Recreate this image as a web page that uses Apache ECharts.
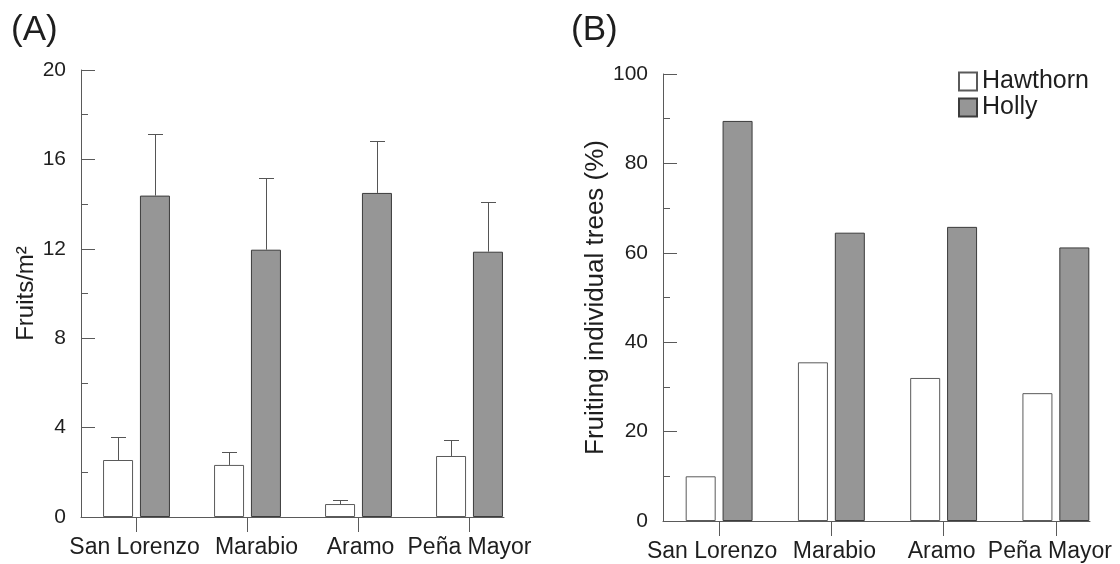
<!DOCTYPE html>
<html>
<head>
<meta charset="utf-8">
<script src="https://cdn.jsdelivr.net/npm/echarts@6/dist/echarts.min.js"></script>
<style>
  html, body { margin: 0; padding: 0; background: #fff; }
  #chart { width: 1120px; height: 564px; }
</style>
</head>
<body>
<div id="chart"></div>
<script>
// sites along the x axis of both panels
const categories = ['San Lorenzo', 'Marabio', 'Aramo', 'Peña Mayor'];

// (A) fruits per m2, mean and top of the error bar
const fruitsHawthorn = [2.55, 2.33, 0.58, 2.73];
const fruitsHawthornErr = [3.58, 2.91, 0.76, 3.45];
const fruitsHolly = [14.38, 11.96, 14.5, 11.87];
const fruitsHollyErr = [17.12, 15.18, 16.81, 14.08];

// (B) fruiting individual trees (%)
const pctHawthorn = [10.0, 35.5, 32.0, 28.6];
const pctHolly = [89.5, 64.5, 65.8, 61.2];

const FONT = 'Liberation Sans, Arial, sans-serif';
const TEXT = '#1e1e1e';
const AXIS = '#5a5a5a';
const BAR_W = 30;
const BAR_GAP = 0.23; // fraction of bar width
const HALF = (BAR_W + BAR_W * BAR_GAP) / 2; // centre of each bar from category centre

// the original figure nudges some site labels off their tick (px, + = right)
const labelShiftA = [-2, 9, 2, 0];
const labelShiftB = [-7, 3, -2, -6];

const whiteStyle = { color: '#ffffff', borderColor: '#5a5a5a', borderWidth: 1 };
const greyStyle = { color: '#969696', borderColor: '#3c3c3c', borderWidth: 1 };

function errorBars(offset) {
  return function (params, api) {
    const i = api.value(0);
    const base = api.coord([i, api.value(1)]);
    const top = api.coord([i, api.value(2)]);
    const x = Math.round(base[0] + offset) + 0.5;
    const yt = Math.round(top[1]) + 0.5;
    const st = { stroke: '#555', lineWidth: 1 };
    return {
      type: 'group',
      children: [
        { type: 'line', shape: { x1: x, y1: base[1], x2: x, y2: yt }, style: st },
        { type: 'line', shape: { x1: x - 7.5, y1: yt, x2: x + 7.5, y2: yt }, style: st }
      ]
    };
  };
}

function valueAxis(gridIndex, max, interval, name, nameGap, nameSize) {
  return {
    type: 'value', gridIndex: gridIndex, min: 0, max: max, interval: interval,
    name: name, nameLocation: 'middle', nameGap: nameGap,
    nameTextStyle: { fontFamily: FONT, fontSize: nameSize, color: TEXT },
    axisLine: { show: true, lineStyle: { color: AXIS, width: 1 } },
    axisTick: { show: true, inside: true, length: 14, lineStyle: { color: AXIS } },
    minorTick: { show: true, splitNumber: 2, length: 7, lineStyle: { color: AXIS } },
    axisLabel: { fontFamily: FONT, fontSize: 21, color: TEXT, margin: 15 },
    splitLine: { show: false }
  };
}

function catAxis(gridIndex, shifts) {
  const rich = {};
  shifts.forEach((s, i) => {
    rich['s' + i] = {
      fontFamily: FONT, fontSize: 23, color: TEXT,
      padding: s >= 0 ? [0, 0, 0, 2 * s] : [0, -2 * s, 0, 0]
    };
  });
  return {
    type: 'category', gridIndex: gridIndex, data: categories,
    axisLine: { show: false },
    axisTick: { show: true, alignWithLabel: true, interval: 0, length: 15, lineStyle: { color: AXIS } },
    axisLabel: {
      fontFamily: FONT, fontSize: 23, color: TEXT, margin: 19, interval: 0,
      formatter: (v, i) => '{s' + i + '|' + v + '}', rich: rich
    },
    splitLine: { show: false }
  };
}

// plain baseline axis, shorter than the category band
function baseAxis(gridIndex) {
  return {
    type: 'value', gridIndex: gridIndex, min: 0, max: 1,
    axisLine: { show: true, onZero: false, lineStyle: { color: AXIS, width: 1 } },
    axisTick: { show: false }, axisLabel: { show: false }, splitLine: { show: false }
  };
}

function hiddenY(gridIndex) {
  return { type: 'value', gridIndex: gridIndex, show: false, min: 0, max: 1 };
}

const chart = echarts.init(document.getElementById('chart'), null, { renderer: 'canvas' });

chart.setOption({
  animation: false,
  textStyle: { fontFamily: FONT },
  title: [
    { text: '(A)', left: 6, top: 8, textStyle: { fontFamily: FONT, fontSize: 35, fontWeight: 'normal', color: TEXT } },
    { text: '(B)', left: 566, top: 8, textStyle: { fontFamily: FONT, fontSize: 35, fontWeight: 'normal', color: TEXT } }
  ],
  legend: {
    data: ['Hawthorn', 'Holly'],
    orient: 'vertical', left: 953, top: 64,
    icon: 'rect', itemWidth: 18, itemHeight: 18, itemGap: 1,
    textStyle: { fontFamily: FONT, fontSize: 25, color: TEXT },
    selectedMode: false
  },
  grid: [
    { left: 81, top: 70, width: 444, height: 447 },
    { left: 663, top: 74, width: 449, height: 447 },
    { left: 81, top: 70, width: 423, height: 447 },
    { left: 663, top: 74, width: 427, height: 447 }
  ],
  xAxis: [catAxis(0, labelShiftA), catAxis(1, labelShiftB), baseAxis(2), baseAxis(3)],
  yAxis: [
    valueAxis(0, 20, 4, 'Fruits/m²', 41, 24),
    valueAxis(1, 100, 20, 'Fruiting individual trees (%)', 48, 26),
    hiddenY(2), hiddenY(3)
  ],
  series: [
    { name: 'Hawthorn', type: 'bar', xAxisIndex: 0, yAxisIndex: 0, data: fruitsHawthorn,
      barWidth: BAR_W, barGap: (BAR_GAP * 100) + '%', itemStyle: whiteStyle },
    { name: 'Holly', type: 'bar', xAxisIndex: 0, yAxisIndex: 0, data: fruitsHolly,
      barWidth: BAR_W, barGap: (BAR_GAP * 100) + '%', itemStyle: greyStyle },
    { name: 'errHawthorn', type: 'custom', xAxisIndex: 0, yAxisIndex: 0,
      renderItem: errorBars(-HALF),
      data: fruitsHawthorn.map((v, i) => [i, v, fruitsHawthornErr[i]]), z: 3 },
    { name: 'errHolly', type: 'custom', xAxisIndex: 0, yAxisIndex: 0,
      renderItem: errorBars(HALF),
      data: fruitsHolly.map((v, i) => [i, v, fruitsHollyErr[i]]), z: 3 },
    { name: 'Hawthorn', type: 'bar', xAxisIndex: 1, yAxisIndex: 1, data: pctHawthorn,
      barWidth: BAR_W, barGap: (BAR_GAP * 100) + '%', itemStyle: whiteStyle },
    { name: 'Holly', type: 'bar', xAxisIndex: 1, yAxisIndex: 1, data: pctHolly,
      barWidth: BAR_W, barGap: (BAR_GAP * 100) + '%', itemStyle: greyStyle }
  ]
});
</script>
</body>
</html>
